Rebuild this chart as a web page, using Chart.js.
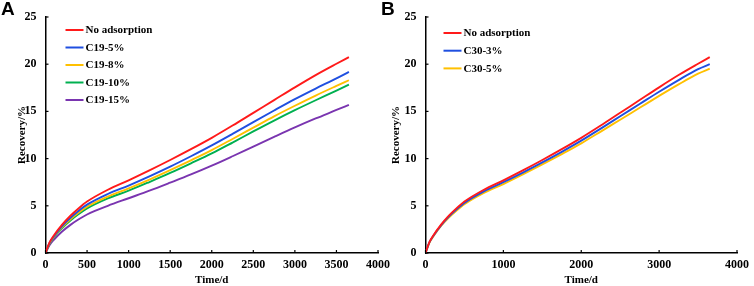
<!DOCTYPE html>
<html>
<head>
<meta charset="utf-8">
<script src="https://cdn.jsdelivr.net/npm/chart.js@4.4.1/dist/chart.umd.min.js"></script>
<style>
    html, body { margin: 0; padding: 0; background: #fff; }
    #wrap { position: relative; width: 754px; height: 286px; overflow: hidden; }
    canvas { position: absolute; top: 0; }
    .panel-tag { position: absolute; top: -2px; font: bold 19px "Liberation Sans", Arial, sans-serif; color: #000; }
</style>
</head>
<body>
<div id="wrap">
    <canvas id="chartA" width="400" height="286" style="left:0"></canvas>
    <canvas id="chartB" width="374" height="286" style="left:380px"></canvas>
    <div class="panel-tag" style="left:1px">A</div>
    <div class="panel-tag" style="left:381px">B</div>
</div>
<script>
// time in days
const days = [0, 50, 100, 200, 300, 400, 500, 750, 1000, 1250, 1500, 1750, 2000, 2250, 2500, 2750, 3000, 3250, 3500, 3650];

// recovery %, panel A
const noAdsorption = [0, 1.15, 1.85, 3.0, 3.95, 4.75, 5.45, 6.7, 7.7, 8.75, 9.85, 11.0, 12.2, 13.5, 14.85, 16.2, 17.55, 18.85, 20.05, 20.75];
const c19_5 = [0, 1.1, 1.75, 2.85, 3.72, 4.48, 5.12, 6.25, 7.15, 8.12, 9.15, 10.25, 11.4, 12.62, 13.87, 15.1, 16.3, 17.42, 18.5, 19.18];
const c19_8 = [0, 1.05, 1.7, 2.75, 3.58, 4.28, 4.9, 5.98, 6.85, 7.78, 8.78, 9.82, 10.9, 12.08, 13.28, 14.48, 15.6, 16.68, 17.7, 18.3];
const c19_10 = [0, 1.0, 1.65, 2.65, 3.45, 4.13, 4.72, 5.78, 6.6, 7.52, 8.48, 9.5, 10.55, 11.7, 12.88, 14.03, 15.13, 16.18, 17.2, 17.83];
const c19_15 = [0, 0.85, 1.4, 2.28, 2.98, 3.57, 4.08, 5.0, 5.8, 6.6, 7.45, 8.32, 9.25, 10.25, 11.28, 12.3, 13.3, 14.25, 15.15, 15.7];

// panel B
const c30_3 = [0, 1.12, 1.8, 2.93, 3.85, 4.62, 5.3, 6.52, 7.5, 8.52, 9.6, 10.72, 11.9, 13.18, 14.48, 15.78, 17.08, 18.32, 19.48, 20.0];
const c30_5 = [0, 1.08, 1.75, 2.86, 3.75, 4.5, 5.16, 6.36, 7.3, 8.32, 9.38, 10.48, 11.62, 12.86, 14.12, 15.38, 16.64, 17.86, 19.0, 19.52];

const yTicks = [0, 5, 10, 15, 20, 25];

const RED = '#ff1a1a', BLUE = '#1f4fe0', YELLOW = '#ffc000', GREEN = '#00b050', PURPLE = '#7a35b0';
const FAMILY = '"Liberation Serif", "Times New Roman", serif';
const FONT = { family: FAMILY, weight: 'bold', size: 11 };
const TICK_FONT = { family: FAMILY, weight: 'bold', size: 12 };

function series(label, values, color) {
    return {
        label,
        data: days.map((d, i) => ({ x: d, y: values[i] })),
        borderColor: color,
        backgroundColor: color,
        borderWidth: 1.9,
        pointRadius: 0,
        cubicInterpolationMode: 'monotone',
        fill: false
    };
}

// short tick marks pointing into the plot, like the original figure
const innerTicks = {
    id: 'innerTicks',
    afterDraw(chart) {
        const { ctx, chartArea, scales } = chart;
        ctx.save();
        ctx.strokeStyle = '#000';
        ctx.lineWidth = 1.2;
        scales.x.ticks.forEach((t, i) => {
            const px = scales.x.getPixelForTick(i);
            ctx.beginPath();
            ctx.moveTo(px, chartArea.bottom);
            ctx.lineTo(px, chartArea.bottom - 3);
            ctx.stroke();
        });
        scales.y.ticks.forEach((t, i) => {
            const py = scales.y.getPixelForTick(i);
            ctx.beginPath();
            ctx.moveTo(chartArea.left, py);
            ctx.lineTo(chartArea.left + 3, py);
            ctx.stroke();
        });
        ctx.restore();
    }
};

const boxLegend = {
    id: 'boxLegend',
    afterDraw(chart, args, opts) {
        const { ctx, chartArea } = chart;
        ctx.save();
        ctx.font = `bold ${FONT.size}px ${FONT.family}`;
        ctx.textBaseline = 'middle';
        ctx.fillStyle = '#000';
        chart.data.datasets.forEach((ds, i) => {
            const x0 = chartArea.left + opts.dx;
            const y = chartArea.top + opts.dy + i * opts.gap;
            ctx.strokeStyle = ds.borderColor;
            ctx.lineWidth = 2;
            ctx.beginPath();
            ctx.moveTo(x0, y);
            ctx.lineTo(x0 + 18, y);
            ctx.stroke();
            ctx.fillText(ds.label, x0 + 20, y + 0.5);
        });
        ctx.restore();
    }
};

function makeChart(id, datasets, cfg) {
    return new Chart(document.getElementById(id), {
        type: 'line',
        data: { datasets },
        plugins: [innerTicks, boxLegend],
        options: {
            responsive: false,
            animation: false,
            devicePixelRatio: 1,
            layout: { autoPadding: false, padding: { left: 0, top: 17, right: cfg.padRight, bottom: 0 } },
            plugins: {
                legend: { display: false },
                tooltip: { enabled: false },
                boxLegend: cfg.legend
            },
            scales: {
                x: {
                    type: 'linear',
                    min: 0,
                    max: 4000,
                    afterFit: s => { s.height = 33; },
                    ticks: { stepSize: cfg.xStep, color: '#000', font: TICK_FONT, padding: 5, maxRotation: 0, callback: v => String(v) },
                    grid: { display: false, drawTicks: false },
                    border: { display: true, color: '#000', width: 1.5 },
                    title: { display: true, text: 'Time/d', color: '#000', font: { ...FONT, lineHeight: 1 }, padding: { top: 0, bottom: 0 } }
                },
                y: {
                    min: 0,
                    max: 25,
                    afterFit: s => { s.width = 45.5; },
                    afterBuildTicks: s => { s.ticks = yTicks.map(v => ({ value: v })); },
                    ticks: { color: '#000', font: TICK_FONT, padding: 9, callback: v => String(v) },
                    grid: { display: false, drawTicks: false },
                    border: { display: true, color: '#000', width: 1.5 },
                    title: { display: true, text: 'Recovery/%', color: '#000', font: FONT, padding: { top: cfg.yTitlePad, bottom: 0 } }
                }
            }
        }
    });
}

makeChart('chartA', [
    series('No adsorption', noAdsorption, RED),
    series('C19-5%', c19_5, BLUE),
    series('C19-8%', c19_8, YELLOW),
    series('C19-10%', c19_10, GREEN),
    series('C19-15%', c19_15, PURPLE)
], { padRight: 22, xStep: 500, yTitlePad: 15.4, legend: { dx: 20, dy: 13, gap: 17.5 } });

makeChart('chartB', [
    series('No adsorption', noAdsorption, RED),
    series('C30-3%', c30_3, BLUE),
    series('C30-5%', c30_5, YELLOW)
], { padRight: 11, xStep: 1000, yTitlePad: 10, legend: { dx: 18, dy: 16, gap: 17.7 } });
</script>
</body>
</html>
